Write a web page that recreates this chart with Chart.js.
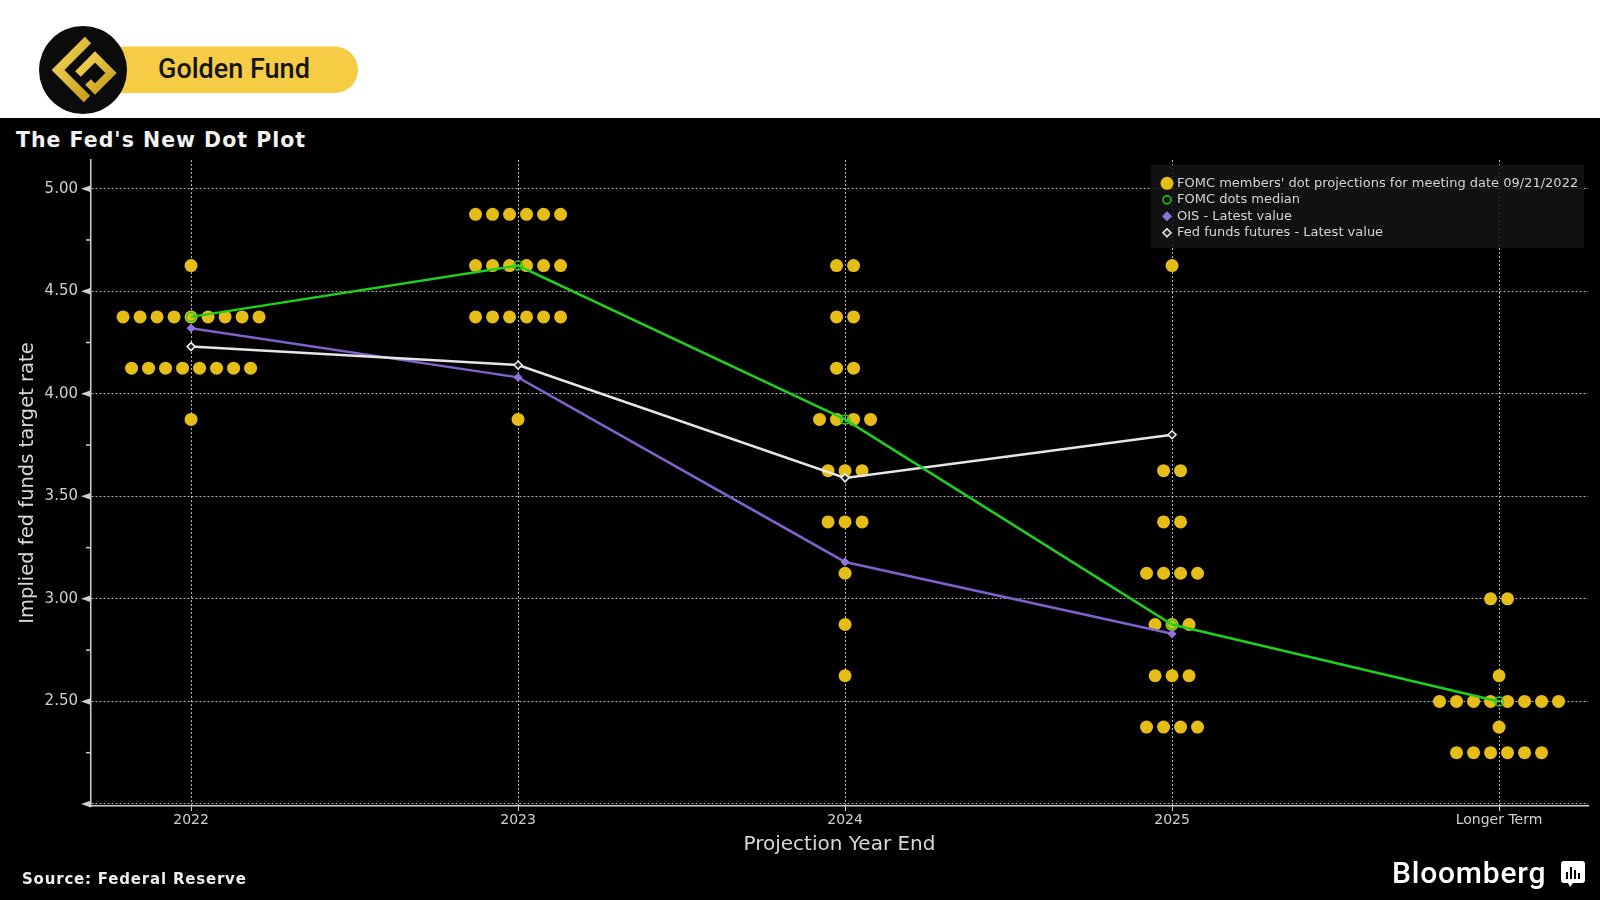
<!DOCTYPE html>
<html lang="en">
<head>
<meta charset="UTF-8">
<title>The Fed's New Dot Plot</title>
<script src="https://cdn.jsdelivr.net/npm/chart.js"></script>
<style>
    body {
        margin: 0;
        width: 1600px;
        height: 900px;
        background: #000;
        position: relative;
        overflow: hidden;
        font-family: 'DejaVu Sans', sans-serif;
    }
    #header {
        position: absolute;
        left: 0;
        top: 0;
        width: 1600px;
        height: 118px;
        background: #fff;
    }
    #brand {
        position: absolute;
        left: 158px;
        top: 53px;
        font-family: Roboto, sans-serif;
        font-weight: 500;
        font-size: 27px;
        line-height: 32px;
        color: #151515;
    }
    #title {
        position: absolute;
        left: 16px;
        top: 128px;
        font-weight: bold;
        font-size: 20.5px;
        letter-spacing: 1px;
        line-height: 24px;
        color: #f2f2f2;
    }
    #source {
        position: absolute;
        left: 22px;
        top: 870px;
        font-weight: bold;
        font-size: 15px;
        letter-spacing: 0.8px;
        line-height: 18px;
        color: #ededed;
    }
    #bloomberg {
        position: absolute;
        left: 1392px;
        top: 855px;
        font-family: Roboto, sans-serif;
        font-weight: 500;
        font-size: 30px;
        letter-spacing: 0.8px;
        line-height: 36px;
        color: #fff;
    }
    #bbIcon {
        position: absolute;
        left: 1561px;
        top: 861px;
    }
    #dotChart {
        position: absolute;
        left: 0;
        top: 118px;
    }
</style>
</head>
<body>
    <div id="header">
        <svg width="400" height="118">
            <defs>
                <linearGradient id="gold" x1="0" y1="0" x2="1" y2="1">
                    <stop offset="0" stop-color="#f3d65a"/>
                    <stop offset="1" stop-color="#c99d1c"/>
                </linearGradient>
            </defs>
            <rect x="100" y="46.5" width="258" height="46.5" rx="23.25" fill="#f6cc44"/>
            <circle cx="83" cy="70" r="44" fill="#0b0b0b"/>
            <polyline points="88,40 58,70 87,99" fill="none" stroke="url(#gold)" stroke-width="9"/>
            <polyline points="78,74 95,57 111,73 95,89 88,82" fill="none" stroke="url(#gold)" stroke-width="8"/>
        </svg>
        <div id="brand">Golden Fund</div>
    </div>
    <div id="title">The Fed's New Dot Plot</div>
    <canvas id="dotChart" width="1600" height="782"></canvas>
    <div id="source">Source: Federal Reserve</div>
    <div id="bloomberg">Bloomberg</div>
    <svg id="bbIcon" width="24" height="27">
        <path d="M3 0 H21 Q24 0 24 3 V19 Q24 22 21 22 H12 L9 26 L7 22 H3 Q0 22 0 19 V3 Q0 0 3 0 Z" fill="#fff"/>
        <rect x="5" y="11" width="2" height="7" fill="#000"/>
        <rect x="9" y="6" width="2" height="12" fill="#000"/>
        <rect x="13" y="9" width="2" height="9" fill="#000"/>
        <rect x="17" y="12" width="2" height="6" fill="#000"/>
    </svg>

    <script>
        const categories = ['2022', '2023', '2024', '2025', 'Longer Term'];

        // [rate, number of FOMC members at that rate]
        const dots2022 = [[4.625, 1], [4.375, 9], [4.125, 8], [3.875, 1]];
        const dots2023 = [[4.875, 6], [4.625, 6], [4.375, 6], [3.875, 1]];
        const dots2024 = [[4.625, 2], [4.375, 2], [4.125, 2], [3.875, 4], [3.625, 3], [3.375, 3], [3.125, 1], [2.875, 1], [2.625, 1]];
        const dots2025 = [[4.625, 1], [3.625, 2], [3.375, 2], [3.125, 4], [2.875, 3], [2.625, 3], [2.375, 4]];
        const dotsLonger = [[3.000, 2], [2.625, 1], [2.500, 8], [2.375, 1], [2.250, 6]];

        const medianDots = [4.375, 4.625, 3.875, 2.875, 2.500];
        const oisLatest = [4.32, 4.08, 3.18, 2.83];
        const futuresLatest = [4.23, 4.14, 3.59, 3.80];

        const yTickValues = [2.00, 2.25, 2.50, 2.75, 3.00, 3.25, 3.50, 3.75, 4.00, 4.25, 4.50, 4.75, 5.00];

        // dots in one row are spread around the year position
        const dotStep = 0.052;
        const dotPoints = [];
        [dots2022, dots2023, dots2024, dots2025, dotsLonger].forEach((rows, i) => {
            rows.forEach(([rate, count]) => {
                for (let k = 0; k < count; k++) {
                    dotPoints.push({ x: i + (k - (count - 1) / 2) * dotStep, y: rate });
                }
            });
        });

        const toPoints = values => values.map((v, i) => ({ x: i, y: v }));
        const isMajor = v => Math.abs(v * 2 - Math.round(v * 2)) < 1e-6;

        // triangles at the labelled ticks, short marks in between
        const yTickMarks = {
            id: 'yTickMarks',
            afterDraw(chart) {
                const y = chart.scales.y;
                const ctx = chart.ctx;
                const x0 = y.right;
                ctx.save();
                ctx.fillStyle = '#d0d0d0';
                ctx.strokeStyle = '#d0d0d0';
                ctx.lineWidth = 1.5;
                y.ticks.forEach(t => {
                    const py = y.getPixelForValue(t.value);
                    ctx.beginPath();
                    if (isMajor(t.value)) {
                        ctx.moveTo(x0, py - 3.5);
                        ctx.lineTo(x0 - 10, py);
                        ctx.lineTo(x0, py + 3.5);
                        ctx.closePath();
                        ctx.fill();
                    } else {
                        ctx.moveTo(x0 - 5, py);
                        ctx.lineTo(x0, py);
                        ctx.stroke();
                    }
                });
                ctx.restore();
            }
        };

        const boxLegend = {
            id: 'boxLegend',
            afterDraw(chart) {
                const ctx = chart.ctx;
                const sets = chart.data.datasets;
                ctx.save();
                ctx.fillStyle = 'rgba(20, 20, 20, 0.85)';
                ctx.fillRect(1151, 47, 433, 83);
                ctx.font = '13px "DejaVu Sans"';
                ctx.textBaseline = 'middle';
                sets.forEach((ds, i) => {
                    const cy = 65.3 + i * 16.5;
                    const cx = 1167;
                    ctx.beginPath();
                    if (ds.pointStyle === 'rectRot') {
                        ctx.moveTo(cx, cy - 4);
                        ctx.lineTo(cx + 4, cy);
                        ctx.lineTo(cx, cy + 4);
                        ctx.lineTo(cx - 4, cy);
                        ctx.closePath();
                    } else {
                        ctx.arc(cx, cy, i === 0 ? 6.5 : 4, 0, Math.PI * 2);
                    }
                    ctx.fillStyle = ds.pointBackgroundColor;
                    ctx.fill();
                    if (i > 0) {
                        ctx.strokeStyle = ds.pointBorderColor;
                        ctx.lineWidth = 1.5;
                        ctx.stroke();
                    }
                    ctx.fillStyle = '#d5d5d5';
                    ctx.fillText(ds.label, 1177, cy);
                });
                ctx.restore();
            }
        };

        // in Chart.js v4 the grid line dash lives under border.dash
        const axisBorder = { color: '#cfcfcf', width: 1.5, dash: [2, 2] };

        new Chart(document.getElementById('dotChart'), {
            type: 'scatter',
            data: {
                datasets: [
                    {
                        label: "FOMC members' dot projections for meeting date 09/21/2022",
                        data: dotPoints,
                        pointRadius: 6.5,
                        pointHoverRadius: 6.5,
                        pointBackgroundColor: '#e5bd16',
                        pointBorderWidth: 0,
                        showLine: false,
                        order: 10
                    },
                    {
                        label: 'FOMC dots median',
                        data: toPoints(medianDots),
                        showLine: true,
                        borderColor: '#1fd11f',
                        borderWidth: 2.5,
                        pointStyle: 'circle',
                        pointRadius: 4.5,
                        pointBorderColor: '#1fd11f',
                        pointBackgroundColor: 'rgba(0,0,0,0)',
                        pointBorderWidth: 1.5,
                        order: 1
                    },
                    {
                        label: 'OIS - Latest value',
                        data: toPoints(oisLatest),
                        showLine: true,
                        borderColor: '#7f62cc',
                        borderWidth: 2.5,
                        pointStyle: 'rectRot',
                        pointRadius: 4,
                        pointBorderColor: '#8f74dc',
                        pointBackgroundColor: '#8f74dc',
                        pointBorderWidth: 1,
                        order: 3
                    },
                    {
                        label: 'Fed funds futures - Latest value',
                        data: toPoints(futuresLatest),
                        showLine: true,
                        borderColor: '#e6e6e6',
                        borderWidth: 2.5,
                        pointStyle: 'rectRot',
                        pointRadius: 4,
                        pointBorderColor: '#f0f0f0',
                        pointBackgroundColor: '#222',
                        pointBorderWidth: 1.5,
                        order: 2
                    }
                ]
            },
            options: {
                responsive: false,
                animation: false,
                layout: { padding: { left: 0, right: 12, top: 42, bottom: 0 } },
                plugins: {
                    legend: { display: false },
                    tooltip: { enabled: false }
                },
                scales: {
                    x: {
                        type: 'linear',
                        min: -0.306,
                        max: 4.272,
                        afterFit: scale => { scale.height = 94; },
                        afterBuildTicks: scale => {
                            scale.ticks = categories.map((c, i) => ({ value: i }));
                        },
                        ticks: {
                            autoSkip: false,
                            maxRotation: 0,
                            padding: 1,
                            color: '#d0d0d0',
                            font: { family: 'DejaVu Sans', size: 14 },
                            callback: v => categories[v]
                        },
                        grid: {
                            lineWidth: 1,
                            color: 'rgba(225, 225, 225, 0.8)',
                            drawTicks: true,
                            tickLength: 5,
                            tickColor: '#d0d0d0',
                            tickBorderDash: []
                        },
                        border: axisBorder,
                        title: {
                            display: true,
                            text: 'Projection Year End',
                            color: '#d8d8d8',
                            font: { family: 'DejaVu Sans', size: 20 },
                            padding: { top: 0, bottom: 43 }
                        }
                    },
                    y: {
                        type: 'linear',
                        min: 1.99,
                        max: 5.14,
                        afterFit: scale => { scale.width = 91; },
                        afterBuildTicks: scale => {
                            scale.ticks = yTickValues.map(v => ({ value: v }));
                        },
                        ticks: {
                            autoSkip: false,
                            padding: 13,
                            color: '#d0d0d0',
                            font: { family: 'DejaVu Sans', size: 15 },
                            callback: v => (isMajor(v) && v > 2 ? v.toFixed(2) : '')
                        },
                        grid: {
                            lineWidth: 1,
                            color: ctx => (ctx.tick && isMajor(ctx.tick.value) ? 'rgba(225, 225, 225, 0.8)' : 'rgba(0,0,0,0)'),
                            drawTicks: false
                        },
                        border: axisBorder,
                        title: {
                            display: true,
                            text: 'Implied fed funds target rate',
                            color: '#d8d8d8',
                            font: { family: 'DejaVu Sans', size: 19.5 },
                            padding: { top: 16, bottom: 0 }
                        }
                    }
                }
            },
            plugins: [yTickMarks, boxLegend]
        });
    </script>
</body>
</html>
